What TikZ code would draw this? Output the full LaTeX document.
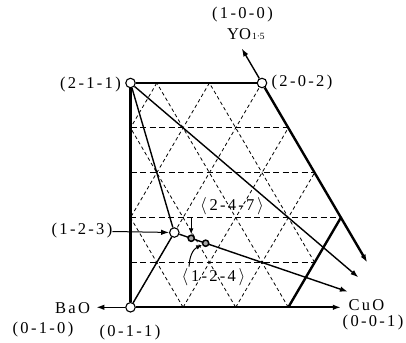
\documentclass[tikz,border=0pt]{standalone}
\usepackage{fontspec}
\setmainfont{Liberation Serif}
\newfontfamily\lblfam{Liberation Serif}[LetterSpace=14]
\usetikzlibrary{arrows.meta,calc}
\begin{document}
\begin{tikzpicture}[x=1pt,y=1pt,
  thickln/.style={line width=2.4pt},
  thinln/.style={line width=1.4pt},
  hdash/.style={line width=1pt, dash pattern=on 6pt off 3.5pt},
  ddash/.style={line width=0.8pt, dash pattern=on 3.5pt off 2.8pt},
  tip/.style={-{Latex[length=8pt,width=5.5pt]}},
  smalltip/.style={-{Latex[length=6pt,width=4.5pt]}},
  opendot/.style={circle, draw, fill=white, line width=1.1pt, minimum size=9.5pt, inner sep=0pt},
  comp/.style={circle, draw, fill=gray!70, line width=1.5pt, minimum size=6.2pt, inner sep=0pt},
  lbl/.style={font=\fontsize{16.5}{19}\selectfont\lblfam, inner sep=0pt},
]
\useasboundingbox (0,0) rectangle (406,342);
\begin{scope}[shift={(-132.5pt,34.7pt)}, x={(526pt,0pt)}, y={(263pt,448.6pt)}]
  \coordinate (P011) at (0.5,0);
  \coordinate (P211) at (0.25,0.5);
  \coordinate (P202) at (0.5,0.5);
  \coordinate (P123) at (0.5,0.166667);
  \coordinate (P247) at (0.538462,0.153846);
  \coordinate (P124) at (0.571429,0.142857);
  \coordinate (Q1) at (0.8,0);
  \coordinate (Q2) at (0.8,0.2);
  \coordinate (TCu) at (0.9,0);
  \coordinate (TBa) at (0.435,0);
  \coordinate (TY) at (0.423,0.577);
  \coordinate (T202) at (0.9,0.1);
  \coordinate (T211) at (0.9,0.066667);
  \coordinate (T123) at (0.896,0.034667);
  \foreach \a/\b/\c/\d in {0.45/0.1/0.8/0.1, 0.4/0.2/0.8/0.2, 0.35/0.3/0.7/0.3, 0.3/0.4/0.6/0.4}
    \draw[hdash] (\a,\b) -- (\c,\d);
  \foreach \a/\b/\c/\d in {0.6/0/0.4/0.2, 0.7/0/0.3/0.4, 0.8/0/0.3/0.5, 0.8/0.1/0.4/0.5,
      0.3/0.5/0.3/0.4, 0.4/0.5/0.4/0.2, 0.5/0.5/0.5/0, 0.6/0/0.6/0.4, 0.7/0/0.7/0.3}
    \draw[ddash] (\a,\b) -- (\c,\d);
\end{scope}
\node[opendot] (n011) at (P011) {};
\node[opendot] (n211) at (P211) {};
\node[opendot] (n202) at (P202) {};
\node[opendot] (n123) at (P123) {};
\draw[thickln] (n011) -- (n211);
\draw[thickln] (n211) -- (n202);
\draw[thickln, tip] (n202) -- (T202);
\draw[thickln] (Q1) -- (Q2);
\draw[line width=2.1pt, tip] (n011) -- (TCu);
\draw[thinln, tip] (n011) -- (TBa);
\draw[thinln, tip] (n202) -- (TY);
\draw[thinln] (n211) -- (n123);
\draw[thinln] (n011) -- (n123);
\draw[thinln, tip] (n211) -- (T211);
\draw[thinln, tip] (n123) -- (T123);
\node[comp] (n247) at (P247) {};
\node[comp] (n124) at (P124) {};
% labels
\node[lbl] (L100) at (242.5,327) {(1-0-0)};
\node[font=\fontsize{16.5}{19}\selectfont, inner sep=0pt, anchor=base west] (LY) at (227,302.5) {YO\kern1pt{\fontsize{9.5}{10}\selectfont 1·5}};
\node[lbl] (L211) at (90.5,257) {(2-1-1)};
\node[lbl] (L202) at (302,259) {(2-0-2)};
\node[lbl] (L123) at (82,111) {(1-2-3)};
\node[lbl] (LBa) at (72.5,33.5) {BaO};
\node[lbl] (LCu) at (366.5,37) {CuO};
\node[lbl] (L010) at (43,12) {(0-1-0)};
\node[lbl] (L011) at (130,9) {(0-1-1)};
\node[lbl] (L001) at (373,19) {(0-0-1)};
\node[lbl] (L247) at (232,136) {$\langle$\,2-4-7\,$\rangle$};
\node[lbl] (L124) at (213.5,65.3) {$\langle$\,1-2-4\,$\rangle$};
\draw[line width=1pt, tip] (L123) -- (n123);
\coordinate (A247) at ($(n247)+(0,20)$);
\draw[line width=1pt, smalltip] (A247) -- (n247);
\coordinate (A124) at ($(n124)+(-16.5,-23.5)$);
\draw[line width=1pt, smalltip] (A124) to[out=90,in=205] (n124);
\end{tikzpicture}
\end{document}
